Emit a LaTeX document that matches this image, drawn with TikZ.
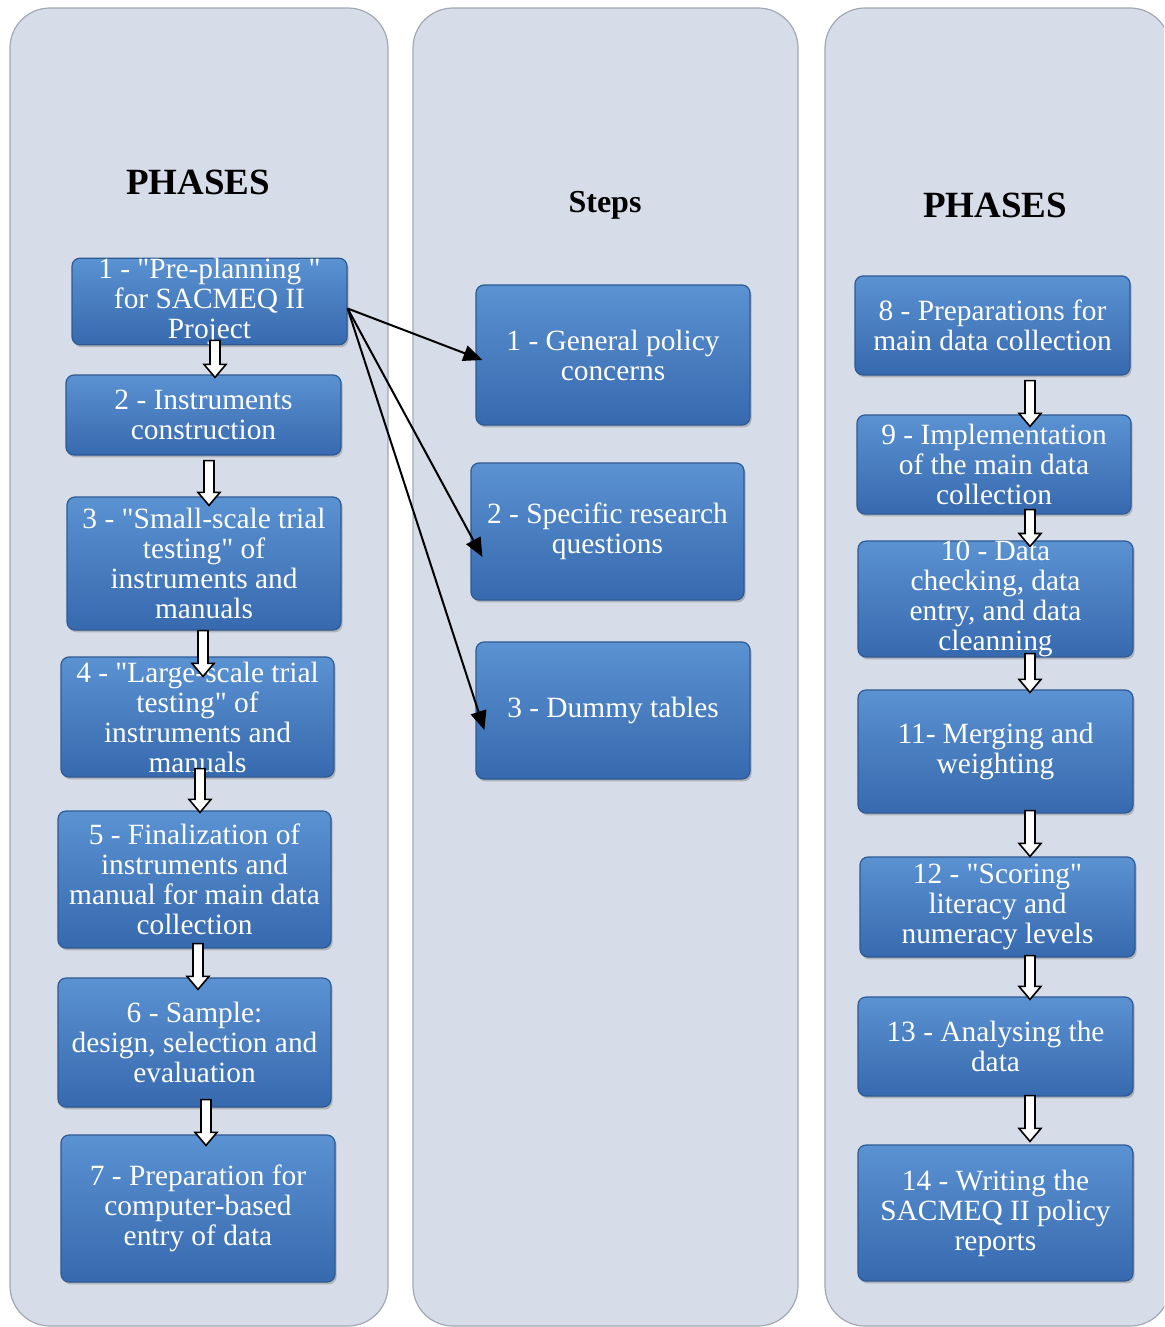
\documentclass[tikz,border=0pt]{standalone}
\usepackage{fontspec}
\setmainfont{Liberation Serif}[Ligatures=TeXOff]
\usetikzlibrary{calc,shadows,arrows.meta}

\definecolor{panelbg}{HTML}{D6DCE8}
\definecolor{paneledge}{HTML}{A3A9B3}
\definecolor{boxtop}{HTML}{5A92D2}
\definecolor{boxbot}{HTML}{3769AE}
\definecolor{boxedge}{HTML}{2D5A94}

\tikzset{
    panel/.style={fill=panelbg, draw=paneledge, line width=0.6pt, rounded corners=20pt},
    phase/.style={%
        rounded corners=4pt, top color=boxtop, bottom color=boxbot,
        draw=boxedge, line width=0.6pt, text=white, align=center, inner sep=0pt,
        font=\fontsize{14.7}{15}\selectfont,
        drop shadow={shadow xshift=0.8pt, shadow yshift=-1.2pt, opacity=0.45}},
    boxsize/.style 2 args={minimum width=#1*0.5pt, minimum height=#2*0.5pt},
    title/.style={font=\bfseries\fontsize{18.5}{22}\selectfont},
    flowarr/.style={draw=black, fill=white, line width=0.8pt},
    link/.style={-{Triangle[length=9.5pt,width=8pt]}, line width=1pt}
}

\begin{document}
\begin{tikzpicture}[x=0.5pt,y=-0.5pt]
            \useasboundingbox (0,0) rectangle (1164,1327);
            \clip (0,0) rectangle (1164,1327);

            % the three columns
            \draw[panel] (10,8) rectangle (388,1326);
            \draw[panel] (413,8) rectangle (798,1326);
            \draw[panel] (825,8) rectangle (1170,1326);

            \node[title] (t1) at (198,182) {PHASES};
            \node[title, font=\bfseries\fontsize{16}{19}\selectfont] (t2) at (605,205) {Steps};
            \node[title] (t3) at (995,205) {PHASES};

            % phases 1--7
            \node[phase, boxsize={275}{77}]  (p1) at (209.5,301.5) {1 - "Pre-planning "\\for SACMEQ II\\Project};
            \node[phase, boxsize={275}{80}]  (p2) at (203.5,415)   {2 - Instruments\\construction};
            \node[phase, boxsize={274}{133}] (p3) at (204,563.5)   {3 - "Small-scale trial\\testing" of\\instruments and\\manuals};
            \node[phase, boxsize={273}{120}] (p4) at (197.5,717)   {4 - "Large-scale trial\\testing" of\\instruments and\\manuals};
            \node[phase, boxsize={273}{137}] (p5) at (194.5,879.5) {5 - Finalization of\\instruments and\\manual for main data\\collection};
            \node[phase, boxsize={273}{129}] (p6) at (194.5,1042.5) {6 - Sample:\\design, selection and\\evaluation};
            \node[phase, boxsize={274}{147}] (p7) at (198,1208.5)  {7 - Preparation for\\computer-based\\entry of data};

            % steps
            \node[phase, boxsize={274}{140}] (m1) at (613,355)   {1 - General policy\\concerns};
            \node[phase, boxsize={273}{137}] (m2) at (607.5,531.5) {2 - Specific research\\questions};
            \node[phase, boxsize={274}{137}] (m3) at (613,710.5) {3 - Dummy tables};

            % phases 8--14
            \node[phase, boxsize={275}{99}]  (p8)  at (992.5,325.5)  {8 - Preparations for\\main data collection};
            \node[phase, boxsize={274}{99}]  (p9)  at (994,464.5)    {9 - Implementation\\of the main data\\collection};
            \node[phase, boxsize={275}{100}] (p10) at (995.5,599)    {10 - Data\\checking, data\\entry, and data\\cleanning};
            \node[phase, boxsize={275}{123}] (p11) at (995.5,751.5)  {11- Merging and\\weighting};
            \node[phase, boxsize={275}{100}] (p12) at (997.5,907)    {12 - "Scoring"\\literacy and\\numeracy levels};
            \node[phase, boxsize={275}{99}]  (p13) at (995.5,1046.5) {13 - Analysing the\\data};
            \node[phase, boxsize={275}{136}] (p14) at (995.5,1213)   {14 - Writing the\\SACMEQ II policy\\reports};

            % block arrows: from/to/x shift/start shift/end shift
            \foreach \a/\b/\dx/\sy/\ey in {%
                p1/p2/5.5/-5/3, p2/p3/5.5/5/9, p3/p4/-1/0/20,
                p4/p5/2.5/-9/2, p5/p6/3.5/-5/12, p6/p7/11.5/-8/11,
                p8/p9/37.5/5/12, p9/p10/36/-5/6, p10/p11/34.5/-4/3,
                p11/p12/34.5/-3/0, p12/p13/32.5/-2/3, p13/p14/34.5/-1/-3}
            {
                \draw[flowarr] let \p1=($(\a.south)+(\dx,\sy)$), \p2=($(\b.north)+(\dx,\ey)$) in
                    (\x1-2.5pt,\y1) -- (\x1-2.5pt,\y2+6.5pt) -- (\x1-5.5pt,\y2+6.5pt) -- (\x1,\y2)
                    -- (\x1+5.5pt,\y2+6.5pt) -- (\x1+2.5pt,\y2+6.5pt) -- (\x1+2.5pt,\y1) -- cycle;
            }

            \coordinate (src) at ($(p1.east)+(0,7)$);
            \path
            (src) edge[link] ($(m1.west)+(7,5)$)
            (src) edge[link] ($(m2.west)+(12,25.5)$)
            (src) edge[link] ($(m3.west)+(9,19.5)$);
        \end{tikzpicture}
\end{document}
